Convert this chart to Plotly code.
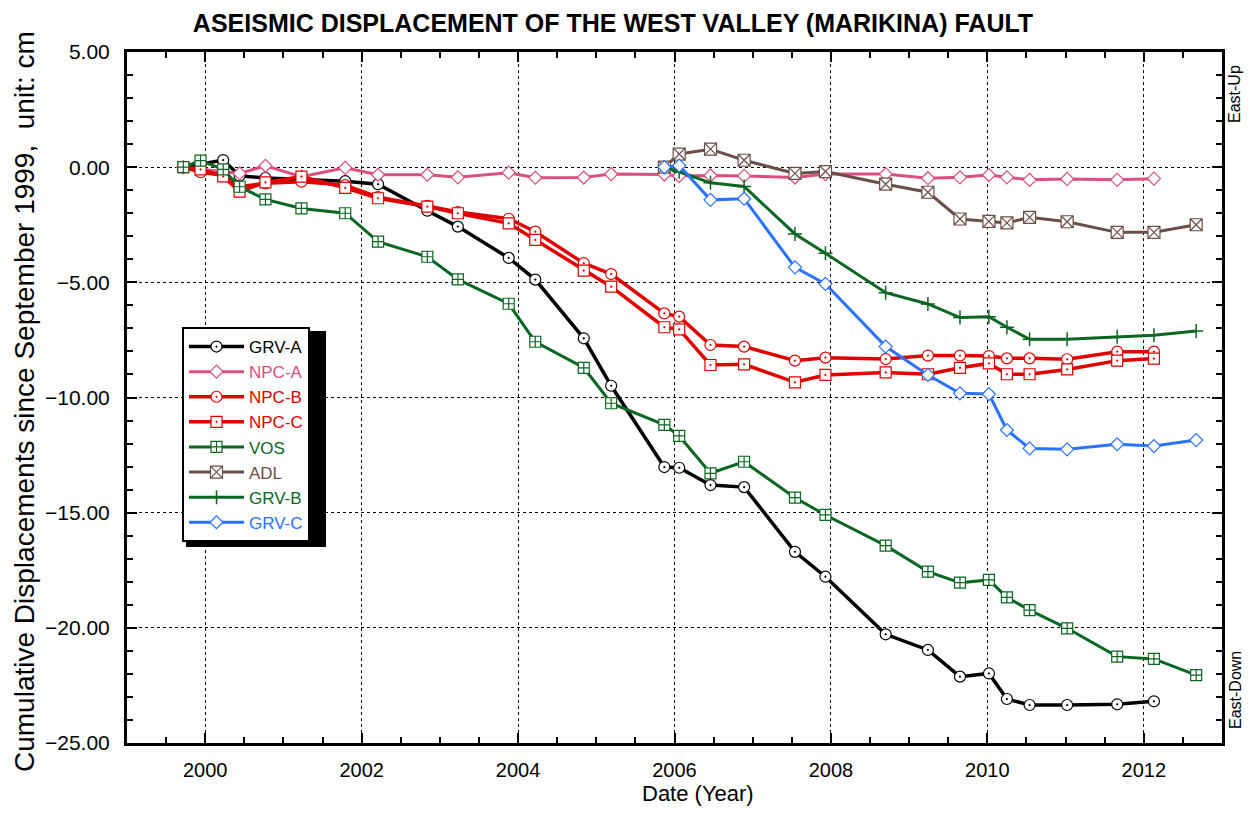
import plotly.graph_objects as go

# ---------------- data ----------------
dates_full = [1999.72, 1999.94, 2000.23, 2000.44, 2000.77, 2001.23, 2001.79, 2002.21, 2002.84,
              2003.23, 2003.88, 2004.22, 2004.84, 2005.19, 2005.87, 2006.06, 2006.46, 2006.89,
              2007.54, 2007.93, 2008.70, 2009.24, 2009.65, 2010.02, 2010.25, 2010.54, 2011.02,
              2011.66, 2012.13, 2012.67]

grv_a_x = [1999.72, 2000.23, 2000.44, 2000.77, 2001.79, 2002.21, 2002.84, 2003.23, 2003.88,
           2004.22, 2004.84, 2005.19, 2005.87, 2006.06, 2006.46, 2006.89, 2007.54, 2007.93,
           2008.70, 2009.24, 2009.65, 2010.02, 2010.25, 2010.54, 2011.02, 2011.66, 2012.13]
grv_a_y = [0.00, 0.31, -0.37, -0.47, -0.61, -0.74, -1.89, -2.58, -3.94,
           -4.88, -7.43, -9.49, -13.02, -13.05, -13.80, -13.89, -16.70, -17.78,
           -20.28, -20.96, -22.12, -21.98, -23.09, -23.35, -23.35, -23.32, -23.19]

npc_a_x = [1999.72, 2000.23, 2000.44, 2000.77, 2001.23, 2001.79, 2002.21, 2002.84, 2003.23,
           2003.88, 2004.22, 2004.84, 2005.19, 2005.87, 2006.06, 2006.46, 2006.89, 2007.54,
           2007.93, 2008.70, 2009.24, 2009.65, 2010.02, 2010.25, 2010.54, 2011.02, 2011.66,
           2012.13]
npc_a_y = [0.00, -0.20, -0.27, 0.06, -0.41, -0.03, -0.33, -0.33, -0.44,
           -0.24, -0.46, -0.45, -0.30, -0.32, -0.38, -0.36, -0.38, -0.45,
           -0.30, -0.30, -0.48, -0.44, -0.34, -0.44, -0.55, -0.51, -0.55,
           -0.50]

npc_x = dates_full[:-1]
npc_b_y = [0.00, -0.22, -0.35, -0.85, -0.70, -0.63, -0.78, -1.30, -1.68,
           -1.95, -2.24, -2.80, -4.17, -4.64, -6.35, -6.49, -7.72, -7.79,
           -8.40, -8.27, -8.33, -8.18, -8.18, -8.20, -8.30, -8.30, -8.34,
           -8.01, -8.01]
npc_c_y = [0.00, -0.10, -0.40, -1.06, -0.66, -0.41, -0.90, -1.35, -1.71,
           -2.00, -2.44, -3.16, -4.49, -5.19, -6.95, -7.04, -8.59, -8.56,
           -9.34, -9.02, -8.91, -8.99, -8.71, -8.52, -8.99, -8.99, -8.78,
           -8.40, -8.31]

vos_x = dates_full
vos_y = [0.00, 0.28, -0.10, -0.85, -1.40, -1.79, -2.00, -3.23, -3.89,
         -4.87, -5.93, -7.58, -8.71, -10.25, -11.19, -11.67, -13.29, -12.79,
         -14.35, -15.10, -16.43, -17.56, -18.04, -17.92, -18.68, -19.23, -20.02,
         -21.25, -21.35, -22.05]

late_x = [2005.87, 2006.06, 2006.46, 2006.89, 2007.54, 2007.93, 2008.70, 2009.24,
          2009.65, 2010.02, 2010.25, 2010.54, 2011.02, 2011.66, 2012.13, 2012.67]
adl_y = [0.00, 0.57, 0.78, 0.30, -0.27, -0.19, -0.74, -1.09,
         -2.25, -2.35, -2.42, -2.18, -2.37, -2.83, -2.83, -2.50]
grv_b_y = [0.00, -0.20, -0.68, -0.84, -2.90, -3.74, -5.45, -5.94,
           -6.53, -6.49, -6.95, -7.47, -7.47, -7.36, -7.30, -7.11]
grv_c_y = [0.00, 0.07, -1.42, -1.37, -4.35, -5.07, -7.79, -9.02,
           -9.82, -9.85, -11.41, -12.21, -12.25, -12.03, -12.11, -11.85]

y_ticks = [5, 0, -5, -10, -15, -20, -25]
x_ticks = [2000, 2002, 2004, 2006, 2008, 2010, 2012]

# ---------------- styles ----------------
series = [
    ("GRV-A", grv_a_x, grv_a_y, "#000000", "circle-dot", 11, 3.5),
    ("NPC-A", npc_a_x, npc_a_y, "#d94f80", "diamond", 10, 3),
    ("NPC-B", npc_x, npc_b_y, "#e00000", "circle-dot", 11, 3.5),
    ("NPC-C", npc_x, npc_c_y, "#e00000", "square-dot", 11, 3.5),
    ("VOS", vos_x, vos_y, "#0b6623", "square-cross", 11, 3),
    ("ADL", late_x, adl_y, "#6b4e47", "square-x", 12, 3),
    ("GRV-B", late_x, grv_b_y, "#0b6623", "cross-thin-open", 10, 3),
    ("GRV-C", late_x, grv_c_y, "#2b73ff", "diamond", 10, 3),
]

# page body has an 8px margin: the figure is sized to fit the 1255x814 window
W, H = 1239, 798
OFF = 8
L, T, R, B = 127, 52, 1222, 743          # plot area in window pixels
PW, PH = R - L, B - T

def px(x):
    return (x - L) / PW

def py(y):
    return (B - y) / PH

ARIAL = "Liberation Sans, Arial"

fig = go.Figure()
for name, xs, ys, col, sym, size, lw in series:
    if sym.endswith("-open"):
        marker = dict(symbol=sym, size=size, color=col, line=dict(color=col, width=1.5))
    else:
        marker = dict(symbol=sym, size=size, color="white", line=dict(color=col, width=1.2))
    fig.add_trace(go.Scatter(
        x=xs, y=ys, name=f"<span style='color:{col}'>{name}</span>", mode="lines+markers",
        line=dict(color=col, width=lw), marker=marker,
    ))

fig.update_layout(
    width=W, height=H,
    margin=dict(l=L - OFF, r=W - (R - OFF), t=T - OFF, b=H - (B - OFF)),
    paper_bgcolor="white", plot_bgcolor="white",
    title=dict(text="<b>ASEISMIC DISPLACEMENT OF THE WEST VALLEY (MARIKINA) FAULT</b>",
               x=(613 - OFF) / W, xref="container", xanchor="center",
               y=1 - (23 - OFF) / H, yref="container", yanchor="middle",
               font=dict(family=ARIAL, size=25, color="black")),
    legend=dict(x=px(182), y=py(327), xanchor="left", yanchor="top",
                bgcolor="white", bordercolor="black", borderwidth=2,
                itemwidth=55, tracegroupgap=0,
                font=dict(family=ARIAL, size=17)),
    showlegend=True,
)

fig.update_xaxes(
    range=[1999.0, 2013.0], tickmode="array", tickvals=x_ticks,
    ticktext=[str(v) for v in x_ticks],
    ticks="inside", ticklen=10, tickwidth=2, tickcolor="black",
    ticklabelstandoff=7,
    minor=dict(dtick=0.5, tick0=2000, ticks="inside", ticklen=6, tickwidth=2, tickcolor="black", showgrid=False),
    showline=True, linecolor="black", linewidth=3, mirror="ticks",
    showgrid=True, gridcolor="black", griddash="dot", gridwidth=1,
    zeroline=False,
    tickfont=dict(family=ARIAL, size=20, color="black"),
)
fig.update_yaxes(
    range=[-25, 5], tickmode="array", tickvals=y_ticks,
    ticktext=[f"{v:.2f}".replace("-", "\u2212") for v in y_ticks],
    ticks="inside", ticklen=10, tickwidth=2, tickcolor="black",
    ticklabelstandoff=10,
    minor=dict(dtick=1, ticks="inside", ticklen=6, tickwidth=2, tickcolor="black", showgrid=False),
    showline=True, linecolor="black", linewidth=3, mirror="ticks",
    showgrid=True, gridcolor="black", griddash="dot", gridwidth=1,
    zeroline=False,
    tickfont=dict(family=ARIAL, size=21, color="black"),
)

# legend drop shadow
fig.add_shape(type="rect", xref="paper", yref="paper",
              x0=px(186), x1=px(326), y0=py(547), y1=py(331),
              fillcolor="black", line=dict(width=0), layer="above")

annots = [
    dict(text="Cumulative Displacements since September 1999,  unit: cm",
         x=px(24), y=py(402), textangle=-90,
         font=dict(family=ARIAL, size=28, color="black")),
    dict(text="Date (Year)", x=px(698), y=py(793),
         font=dict(family=ARIAL, size=22, color="black")),
    dict(text="East-Up", x=px(1235), y=py(94), textangle=-90,
         font=dict(family=ARIAL, size=16, color="black")),
    dict(text="East-Down", x=px(1235), y=py(690), textangle=-90,
         font=dict(family=ARIAL, size=16, color="black")),
]
for a in annots:
    fig.add_annotation(xref="paper", yref="paper", showarrow=False,
                       xanchor="center", yanchor="middle", **a)

fig.write_html("out.html")
